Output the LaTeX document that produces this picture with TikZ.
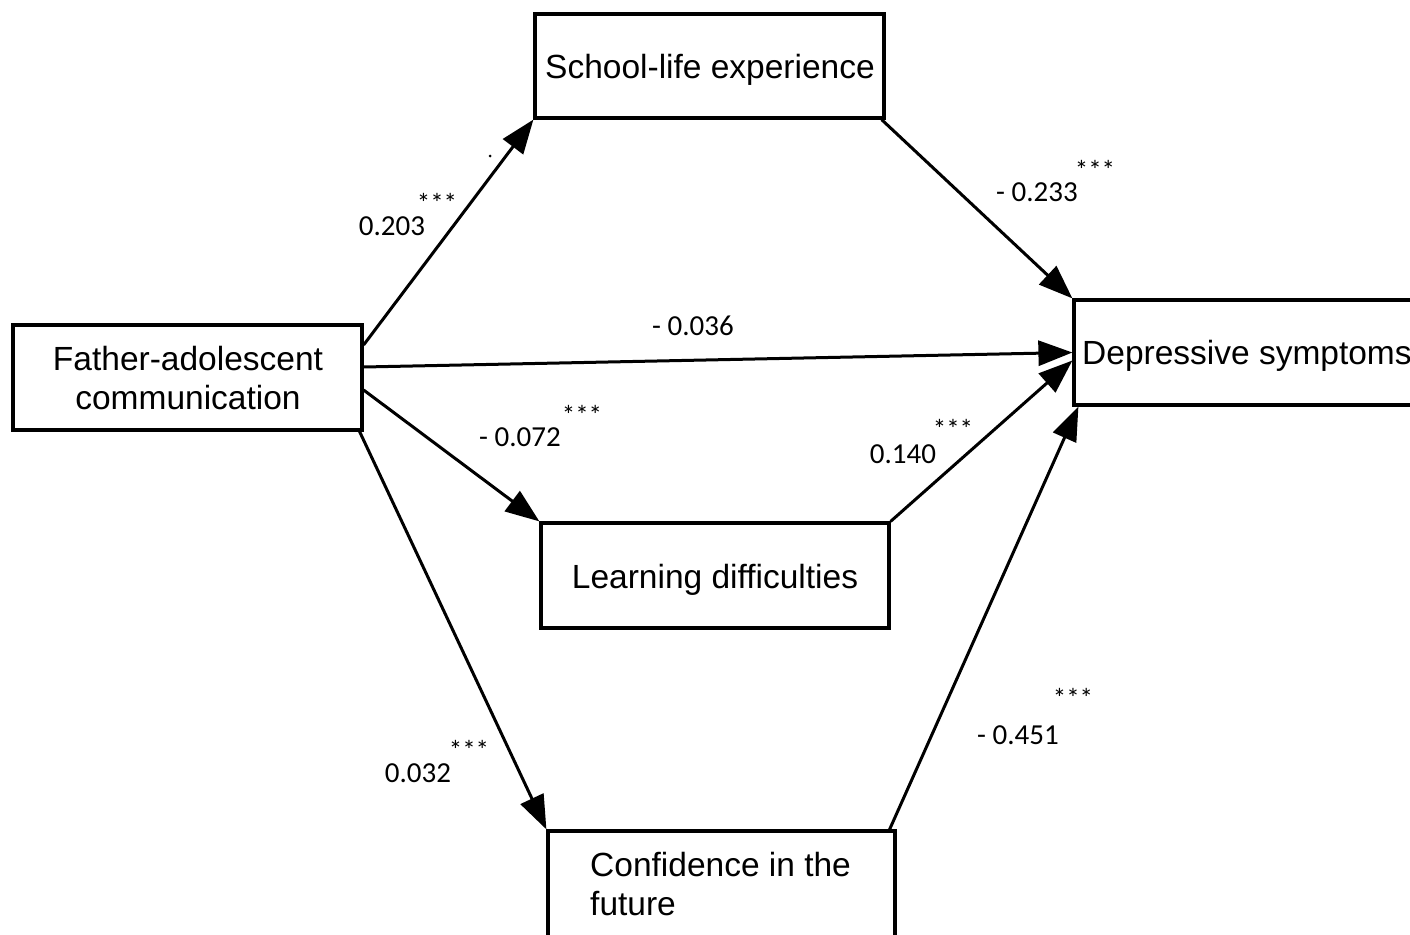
\documentclass[tikz,border=0pt]{standalone}
\usepackage{fontspec}
\setmainfont{Liberation Sans}
\newfontfamily\labfont{Carlito}
\usetikzlibrary{arrows.meta,calc}
\tikzset{
  box/.style={draw, line width=3.2pt, inner sep=0pt, font=\fontsize{33.5}{39}\selectfont, align=center},
  boxtext/.style={inner sep=0pt, font=\fontsize{33.5}{39}\selectfont},
  path/.style={line width=3pt, -{Triangle[length=34pt,width=25pt]}},
  coef/.style={font=\labfont\fontsize{29}{30}\selectfont, inner sep=0pt},
  stars/.style={font=\labfont\fontsize{27}{28}\selectfont, inner sep=0pt}
}
\begin{document}
\begin{tikzpicture}[x=1pt,y=-1pt]
\useasboundingbox (0,0) rectangle (1410,934);
\clip (0,0) rectangle (1410,934);
\node[box, minimum width=349pt, minimum height=105pt] (father) at (187.5,377.5) {};
\node[boxtext, align=center] (fathertext) at (188,378) {Father-adolescent\\communication};
\node[box, minimum width=349pt, minimum height=104pt] (school) at (709.5,66) {};
\node[boxtext] (schooltext) at (710,70) {School-life experience};
\node[box, minimum width=360pt, minimum height=105pt] (dep) at (1254,352.5) {};
\node[boxtext, anchor=west] (deptext) at (1082,356) {Depressive symptoms};
\node[box, minimum width=348pt, minimum height=105pt] (learn) at (715,575.5) {};
\node[boxtext] (learntext) at (715,580) {Learning difficulties};
\node[box, minimum width=347pt, minimum height=129pt] (conf) at (721.5,895.5) {};
\node[boxtext, anchor=north west, align=left] (conftext) at (590,852) {Confidence in the\\future};

\draw[path] ($(father.east)+(0,-32.5)$) -- (school.south west);
\draw[path] ($(father.east)+(0,-10.5)$) -- (dep.west);
\draw[path] ($(father.east)+(0,12.5)$) -- (learn.north west);
\draw[path] ($(father.south east)+(-4,0)$) -- (conf.north west);
\draw[path] ($(school.south east)+(-4,0)$) -- (dep.north west);
\draw[path] (learn.north east) -- ($(dep.west)+(0,8)$);
\draw[path] ($(conf.north east)+(-7,0)$) -- ($(dep.south west)+(6,0)$);

\node[coef] (c1) at (392,226) {0.203};
\node[stars] (s1) at (437,203) {***};
\node[coef] (c2) at (1037,192) {- 0.233};
\node[stars] (s2) at (1095,170) {***};
\node[coef] (c3) at (693,326) {- 0.036};
\node[coef] (c4) at (520,437) {- 0.072};
\node[stars] (s4) at (582,415) {***};
\node[coef] (c5) at (903,454) {0.140};
\node[stars] (s5) at (953,429) {***};
\node[coef] (c6) at (418,773) {0.032};
\node[stars] (s6) at (469,750) {***};
\node[coef] (c7) at (1018,735) {- 0.451};
\node[stars] (s7) at (1073,698) {***};
\fill (490,156) circle (1.5pt);
\end{tikzpicture}
\end{document}
